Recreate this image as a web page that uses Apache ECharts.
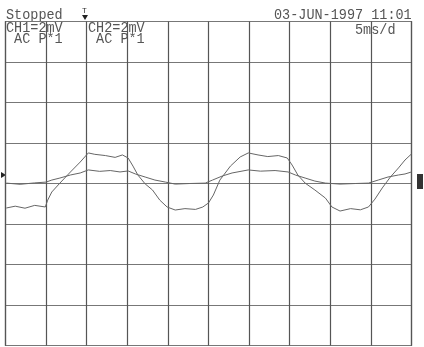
<!DOCTYPE html>
<html>
<head>
<meta charset="utf-8">
<script src="https://cdn.jsdelivr.net/npm/echarts@6/dist/echarts.min.js"></script>
<style>
  html, body { margin: 0; padding: 0; background: #fff; }
  #chart { width: 424px; height: 347px; }
</style>
</head>
<body>
<div id="chart"></div>
<script>
// time in ms (5 ms/div), amplitude in mV (2 mV/div)
var ch1Time = [0.1, 1.2, 2.4, 3.6, 4.9, 5.2, 5.7, 6.7, 8.0, 9.2, 10.2, 11.0, 12.3, 13.5, 14.4, 15.1, 15.7, 16.3, 17.2, 18.1, 19.0, 19.9, 20.9, 22.1, 23.4, 24.3, 25.0, 25.6, 26.4, 27.7, 28.9, 29.9, 31.1, 32.3, 33.6, 34.7, 35.3, 36.0, 36.9, 38.1, 39.4, 40.2, 41.2, 42.5, 43.7, 44.7, 45.5, 46.4, 47.4, 48.4, 49.2, 50.0];
var ch1Val  = [-1.21, -1.12, -1.22, -1.08, -1.16, -0.82, -0.42, 0.02, 0.57, 1.06, 1.51, 1.44, 1.38, 1.29, 1.41, 1.26, 0.86, 0.42, -0.02, -0.32, -0.82, -1.16, -1.31, -1.24, -1.28, -1.16, -0.96, -0.57, 0.17, 0.86, 1.31, 1.51, 1.41, 1.33, 1.38, 1.26, 0.91, 0.42, 0.02, -0.32, -0.72, -1.16, -1.36, -1.24, -1.30, -1.16, -0.77, -0.22, 0.32, 0.77, 1.16, 1.46];

var ch2Time = [0.1, 1.8, 3.6, 5.0, 5.7, 6.7, 8.0, 9.2, 10.2, 11.6, 12.9, 14.1, 15.1, 16.0, 17.2, 18.4, 19.7, 20.9, 22.7, 24.6, 25.5, 26.7, 27.9, 29.9, 31.4, 33.2, 34.8, 35.7, 36.9, 38.1, 39.4, 41.2, 43.1, 44.7, 45.9, 47.1, 48.4, 49.2, 50.0];
var ch2Val  = [0.02, -0.04, 0.03, 0.07, 0.17, 0.27, 0.42, 0.52, 0.67, 0.60, 0.64, 0.57, 0.62, 0.47, 0.32, 0.17, 0.07, -0.03, 0.00, 0.02, 0.17, 0.37, 0.52, 0.67, 0.61, 0.64, 0.57, 0.42, 0.27, 0.12, 0.02, -0.03, 0.00, 0.02, 0.17, 0.32, 0.42, 0.47, 0.57];

var headerLeft = 'Stopped';
var headerRight = '03-JUN-1997 11:01';
var ch1Label = ['CH1=2mV', ' AC P*1'];
var ch2Label = ['CH2=2mV', ' AC P*1'];
var timebase = '5ms/d';

function pairs(t, v) {
  return t.map(function (x, i) { return [x, v[i]]; });
}

var mono = 'Liberation Mono';
var txtColor = '#555';
var fnt = '13.5px ' + mono;

var chart = echarts.init(document.getElementById('chart'));
chart.setOption({
  animation: false,
  backgroundColor: '#fff',
  grid: { left: 5.5, right: 12.5, top: 21.5, bottom: 1.5, show: true, borderColor: '#555', borderWidth: 1.2 },
  xAxis: {
    type: 'value', min: 0, max: 50, interval: 5,
    axisLine: { show: false }, axisTick: { show: false }, axisLabel: { show: false },
    splitLine: { show: true, lineStyle: { color: '#555', width: 1.2 } }
  },
  yAxis: {
    type: 'value', min: -8, max: 8, interval: 2,
    axisLine: { show: false }, axisTick: { show: false }, axisLabel: { show: false },
    splitLine: { show: true, lineStyle: { color: '#777', width: 1.2 } }
  },
  series: [
    {
      name: 'CH1', type: 'line', data: pairs(ch1Time, ch1Val),
      showSymbol: false, lineStyle: { color: '#666', width: 1 }
    },
    {
      name: 'CH2', type: 'line', data: pairs(ch2Time, ch2Val),
      showSymbol: false, lineStyle: { color: '#666', width: 1 }
    }
  ],
  graphic: [
    { type: 'text', x: 6, y: 7, scaleY: 1.15, style: { text: headerLeft, font: fnt, fill: txtColor } },
    { type: 'text', x: 274, y: 7, scaleY: 1.15, style: { text: headerRight, font: fnt, fill: txtColor } },
    { type: 'text', x: 6, y: 22, scaleY: 1.1, style: { text: ch1Label.join('\n'), font: fnt, fill: txtColor, lineHeight: 10.5 } },
    { type: 'text', x: 88, y: 22, scaleY: 1.1, style: { text: ch2Label.join('\n'), font: fnt, fill: txtColor, lineHeight: 10.5 } },
    { type: 'text', x: 355, y: 22, scaleY: 1.1, style: { text: timebase, font: fnt, fill: txtColor } },
    { type: 'text', x: 82, y: 7, style: { text: 'T', font: '8px ' + mono, fill: '#333' } },
    { type: 'polygon', shape: { points: [[82, 15], [88, 15], [85, 20]] }, style: { fill: '#222' } },
    { type: 'polygon', shape: { points: [[1, 172], [6, 175], [1, 178]] }, style: { fill: '#222' } },
    { type: 'rect', shape: { x: 417, y: 174, width: 6, height: 15 }, style: { fill: '#333' } }
  ]
});
</script>
</body>
</html>
